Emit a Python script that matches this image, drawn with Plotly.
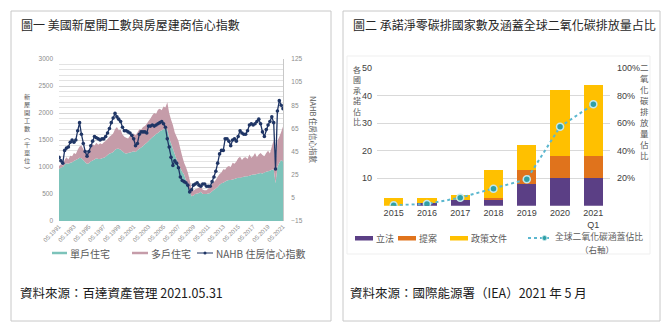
import pandas as pd
import plotly.graph_objects as go

W, H = 670, 326
CJK = "Noto Sans CJK TC"

# ---------------- 圖一 data (quarterly, 05.1991 - 05.2021) ----------------
single_family = [
    960, 990, 1000, 1040, 1070, 1060, 1080, 1090, 1110, 1130, 1150, 1170, 1160, 1130, 1090, 1060,
    1070, 1100, 1120, 1140, 1160, 1150, 1150, 1160, 1170, 1190, 1220, 1250, 1260, 1280, 1320, 1340,
    1340, 1320, 1290, 1260, 1250, 1260, 1270, 1280, 1290, 1280, 1310, 1340, 1360, 1390, 1420, 1450,
    1480, 1520, 1550, 1580, 1610, 1630, 1660, 1680, 1700, 1720, 1700, 1540, 1440, 1340, 1240, 1140,
    1060, 980, 910, 860, 760, 660, 560, 460, 470, 500, 510, 520, 540, 500, 500, 500,
    510, 520, 550, 580, 600, 630, 670, 700, 710, 730, 750, 760, 760, 770, 780, 790,
    800, 800, 810, 820, 830, 830, 840, 850, 860, 860, 870, 880, 890, 880, 900, 910,
    920, 930, 950, 960, 700, 1000, 1080, 1130, 1100,
]
multi_family = [
    60, 60, 30, 90, 110, 80, 130, 110, 150, 110, 170, 210, 240, 200, 200, 190,
    230, 280, 300, 260, 290, 260, 290, 260, 290, 290, 300, 310, 330, 340, 380, 400,
    340, 370, 310, 300, 290, 270, 310, 320, 330, 310, 330, 360, 330, 350, 340, 350,
    370, 380, 410, 420, 370, 430, 420, 370, 420, 380, 500, 460, 440, 440, 400, 420,
    420, 360, 290, 220, 240, 240, 200, 140, 90, 90, 90, 100, 100, 80, 70, 70,
    90, 110, 130, 140, 160, 190, 200, 200, 250, 220, 250, 260, 240, 310, 280, 310,
    360, 390, 320, 350, 350, 320, 390, 320, 340, 400, 310, 350, 370, 340, 300, 350,
    380, 320, 430, 540, 300, 480, 480, 520, 650,
]
nahb_index = [
    40, 37, 35, 46, 48, 49, 53, 55, 53, 55, 63, 70, 60, 52, 45, 41,
    45, 50, 54, 58, 57, 56, 55, 56, 56, 58, 61, 65, 70, 74, 78, 75,
    73, 71, 66, 63, 63, 62, 61, 59, 56, 50, 52, 60, 62, 62, 62, 61,
    67, 67, 68, 67, 68, 69, 70, 71, 69, 66, 56, 49, 40, 33, 37, 35,
    31, 23, 20, 19, 18, 16, 10, 12, 16, 17, 18, 16, 15, 17, 17, 15,
    15, 15, 19, 23, 28, 35, 43, 46, 46, 56, 56, 54, 50, 55, 56, 54,
    58, 63, 61, 60, 60, 63, 68, 69, 68, 69, 71, 73, 69, 62, 58, 64,
    68, 71, 75, 70, 30, 80, 89, 85, 82,
]
dates = pd.date_range("1991-05-01", periods=len(nahb_index), freq="3MS")
tick_years = list(range(1991, 2022, 2))
tick_dates = [f"{y}-05-01" for y in tick_years]
tick_text = [f"05.{y}" for y in tick_years]

# ---------------- 圖二 data ----------------
years = ["2015", "2016", "2017", "2018", "2019", "2020", "2021<br>Q1"]
legislation = [0, 1, 2, 2, 8, 10, 10]
proposal = [0, 0, 0, 1, 5, 8, 8]
policy_doc = [3, 2, 2, 10, 9, 24, 26]
co2_share = [0.004, 0.013, 0.059, 0.124, 0.193, 0.575, 0.738]

TEAL, MAUVE, NAVY = "#7cc3ba", "#c59ca9", "#1f3565"
PURPLE, ORANGE, GOLD = "#5b3f85", "#e0731c", "#ffc000"
LINE_BLUE, DOT = "#5bb7cf", "#2f9fa6"


def px(x):
    return x / W


def py(y):
    return 1 - y / H


fig = go.Figure()

fig.add_trace(go.Scatter(
    x=dates, y=single_family, stackgroup="starts", mode="none",
    fillcolor=TEAL, name="單戶住宅", xaxis="x", yaxis="y",
))
fig.add_trace(go.Scatter(
    x=dates, y=multi_family, stackgroup="starts", mode="none",
    fillcolor=MAUVE, name="多戶住宅", xaxis="x", yaxis="y",
))
fig.add_trace(go.Scatter(
    x=dates, y=nahb_index, mode="lines+markers", name="NAHB 住房信心指數",
    line=dict(color=NAVY, width=1.3), marker=dict(color=NAVY, size=3.6),
    xaxis="x", yaxis="y2",
))

for vals, col, nm in [(legislation, PURPLE, "立法"), (proposal, ORANGE, "提案"),
                      (policy_doc, GOLD, "政策文件")]:
    fig.add_trace(go.Bar(x=years, y=vals, marker=dict(color=col, line=dict(width=0)),
                         name=nm, xaxis="x3", yaxis="y3"))

fig.add_trace(go.Scatter(
    x=years, y=co2_share, mode="lines+markers", name="全球二氧化碳涵蓋佔比",
    line=dict(color=LINE_BLUE, width=2, dash="dot"),
    marker=dict(color=DOT, size=7, line=dict(color="#c4e8ec", width=1.5)),
    xaxis="x3", yaxis="y4",
))

small_grey = dict(family="Liberation Sans", size=6.5, color="#8c8c8c")
bar_tick = dict(family="Liberation Sans", size=9, color="#404040")

fig.update_layout(
    width=W, height=H, margin=dict(l=0, r=0, t=0, b=0, autoexpand=False),
    paper_bgcolor="white", plot_bgcolor="rgba(0,0,0,0)",
    showlegend=False, barmode="stack", bargap=0.42,
    xaxis=dict(
        domain=[px(59), px(283)], anchor="y", type="date", automargin=False,
        range=[dates[0], dates[-1]], tickvals=tick_dates, ticktext=tick_text,
        tickangle=-45, tickfont=dict(family="Liberation Sans", size=6, color="#8c8c8c"),
        showgrid=False, zeroline=False, showline=False, ticks="",
    ),
    yaxis=dict(
        domain=[py(221), py(59)], anchor="x", range=[0, 3000], dtick=500, automargin=False,
        tickfont=small_grey, gridcolor="#d6d6d6", gridwidth=1, zeroline=False,
        minor=dict(dtick=100, showgrid=True, gridcolor="#e3e3e3", gridwidth=1),
        ticklabelstandoff=5,
    ),
    yaxis2=dict(
        overlaying="y", side="right", anchor="x", range=[-15, 125], automargin=False,
        tickvals=[-15, 5, 25, 45, 65, 85, 105, 125], tickfont=small_grey,
        showgrid=False, zeroline=False, showline=True, linecolor="#c8c8c8",
        ticklabelstandoff=6,
    ),
    xaxis3=dict(
        domain=[px(377), px(610)], anchor="y3", type="category", automargin=False,
        tickfont=bar_tick, showgrid=False, zeroline=False, showline=False, ticks="",
    ),
    yaxis3=dict(
        domain=[py(205.8), py(68.3)], anchor="x3", range=[0, 50], automargin=False,
        tickvals=[0, 10, 20, 30, 40, 50], ticktext=["", "10", "20", "30", "40", "50"],
        tickfont=bar_tick, gridcolor="#d9d9d9", gridwidth=1, zeroline=False,
        ticklabelstandoff=4,
    ),
    yaxis4=dict(
        overlaying="y3", side="right", anchor="x3", range=[0, 1], automargin=False,
        tickvals=[0.2, 0.4, 0.6, 0.8, 1.0], ticktext=["20%", "40%", "60%", "80%", "100%"],
        tickfont=bar_tick, showgrid=False, zeroline=False, ticklabelstandoff=6,
    ),
)

shapes = []
annotations = []


def rect(x0, y0, x1, y1, color, fill=None, width=1):
    shapes.append(dict(type="rect", xref="paper", yref="paper",
                       x0=px(x0), x1=px(x1), y0=py(y1), y1=py(y0),
                       line=dict(color=color, width=width),
                       fillcolor=fill if fill else "rgba(0,0,0,0)", layer="below"))


def hline(x0, x1, y, color, width, dash="solid"):
    shapes.append(dict(type="line", xref="paper", yref="paper",
                       x0=px(x0), x1=px(x1), y0=py(y), y1=py(y),
                       line=dict(color=color, width=width, dash=dash)))


def text(x, y, s, size, color="#595959", xanchor="left", family=CJK, angle=0):
    annotations.append(dict(xref="paper", yref="paper", x=px(x), y=py(y), text=s,
                            showarrow=False, xanchor=xanchor, yanchor="middle",
                            textangle=angle, borderpad=0,
                            font=dict(family=family, size=size, color=color)))


def vertical(x, y_mid, chars, size, color="#595959"):
    # upright characters stacked one per line
    text(x, y_mid, "<br>".join(chars), size, color, xanchor="center")


# panel frames
rect(11, 11, 331, 321, "#c8c8c8")
rect(343, 11, 660, 321, "#c8c8c8")
rect(347, 56, 650, 254, "#efefef")

# titles and sources
text(20, 24, "圖一 美國新屋開工數與房屋建商信心指數", 12, "#262626")
text(352, 24, "圖二 承諾淨零碳排國家數及涵蓋全球二氧化碳排放量占比", 12, "#262626")
text(19, 292, "資料來源：百達資產管理 2021.05.31", 12.5, "#1a1a1a")
text(349, 292, "資料來源：國際能源署（IEA）2021 年 5 月", 12.5, "#1a1a1a")

# axis titles
vertical(27, 133, "新屋開工數︵千單位︶", 6.2)
text(313, 130, "NAHB 住房信心指數", 7.5, xanchor="center", angle=90)
vertical(357, 95, "各國承諾佔比", 8)
vertical(644, 111, "二氧化碳排放量佔比", 8.5)

# legend of 圖一
hline(52, 67, 253, TEAL, 2.5)
text(69, 253, "單戶住宅", 10)
hline(132, 148, 253, MAUVE, 2.5)
text(150, 253, "多戶住宅", 10)
hline(197, 213, 253, NAVY, 1)
shapes.append(dict(type="circle", xref="paper", yref="paper",
                   x0=px(203.5), x1=px(206.5), y0=py(254.5), y1=py(251.5),
                   line=dict(color=NAVY, width=0), fillcolor=NAVY))
text(215, 253, "NAHB 住房信心指數", 10)

# legend of 圖二
for x0, col, lab in [(355, PURPLE, "立法"), (398, ORANGE, "提案"), (450, GOLD, "政策文件")]:
    rect(x0, 236, x0 + 18, 240.5, col, fill=col, width=0)
    text(x0 + 20, 238, lab, 9)
hline(528, 552, 238, LINE_BLUE, 1.8, dash="dot")
shapes.append(dict(type="circle", xref="paper", yref="paper",
                   x0=px(542), x1=px(547), y0=py(240.5), y1=py(235.5),
                   line=dict(color="#c4e8ec", width=1), fillcolor=DOT))
text(554, 236.5, "全球二氧化碳涵蓋佔比", 8.8)
text(597, 248.5, "（右軸）", 8.5, xanchor="center")

fig.update_layout(shapes=shapes, annotations=annotations)
fig.write_html("out.html")
